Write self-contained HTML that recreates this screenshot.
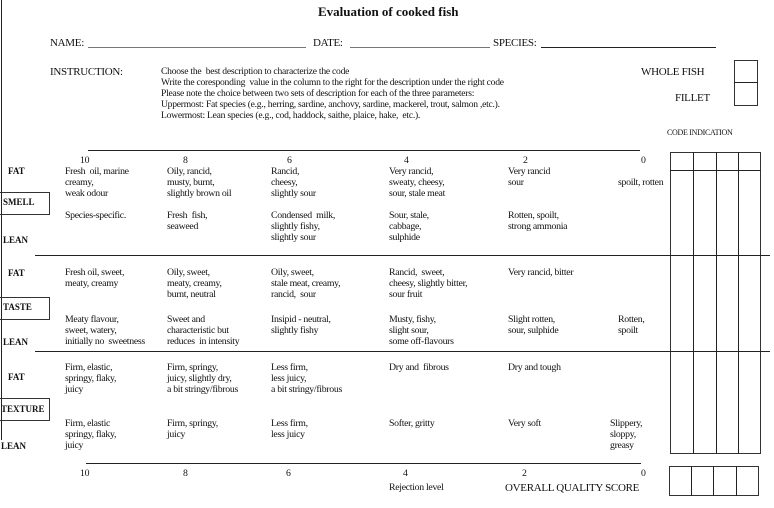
<!DOCTYPE html>
<html><head><meta charset="utf-8"><style>
body{margin:0;width:774px;height:508px;background:#fff;position:relative;overflow:hidden;font-family:"Liberation Serif",serif;color:#111}
.t{position:absolute;font-size:9.8px;line-height:11px;white-space:nowrap;letter-spacing:-0.3px}
.b{position:absolute;font-size:9px;font-weight:bold;white-space:nowrap}
.h{position:absolute;background:#222;height:1px}
.v{position:absolute;background:#222;width:1px}
.box{position:absolute;border:1px solid #333;box-sizing:border-box}
.l{position:absolute;font-size:11px;white-space:nowrap;letter-spacing:-0.3px}
</style></head><body>
<div class="v" style="left:1px;top:0;height:440px"></div>
<div class="b" style="left:318px;top:4px;font-size:13px">Evaluation of cooked fish</div>
<div class="l" style="left:50px;top:37px">NAME:</div><div class="h" style="left:88px;top:47px;width:218px;background:#777"></div>
<div class="l" style="left:313px;top:37px">DATE:</div><div class="h" style="left:350px;top:47px;width:140px;background:#777"></div>
<div class="l" style="left:493px;top:37px">SPECIES:</div><div class="h" style="left:541px;top:47px;width:175px"></div>
<div class="l" style="left:50px;top:66px">INSTRUCTION:</div>
<div class="t" style="left:161px;top:66px;font-size:9.6px;line-height:11px;letter-spacing:-0.25px">Choose the &nbsp;best description to characterize the code<br>Write the coresponding &nbsp;value in the column to the right for the description under the right code<br>Please note the choice between two sets of description for each of the three parameters:<br>Uppermost: Fat species (e.g., herring, sardine, anchovy, sardine, mackerel, trout, salmon ,etc.).<br>Lowermost: Lean species (e.g., cod, haddock, saithe, plaice, hake, &nbsp;etc.).</div>
<div class="l" style="left:641px;top:66px">WHOLE FISH</div>
<div class="l" style="left:675px;top:92px">FILLET</div>
<div class="box" style="left:734px;top:60px;width:24px;height:46px"></div><div class="h" style="left:734px;top:82px;width:24px"></div>
<div class="t" style="left:667px;top:127px;font-size:8px">CODE INDICATION</div>
<div class="box" style="left:670px;top:152px;width:91px;height:302px"></div>
<div class="v" style="left:693px;top:152px;height:302px"></div><div class="v" style="left:716px;top:152px;height:302px"></div><div class="v" style="left:738px;top:152px;height:302px"></div>
<div class="h" style="left:670px;top:170px;width:91px"></div>
<div class="box" style="left:669px;top:466px;width:90px;height:30px"></div>
<div class="v" style="left:691px;top:466px;height:30px"></div><div class="v" style="left:713px;top:466px;height:30px"></div><div class="v" style="left:736px;top:466px;height:30px"></div>
<div class="h" style="left:88px;top:150px;width:552px"></div>
<div class="h" style="left:35px;top:255px;width:735px"></div>
<div class="h" style="left:35px;top:351px;width:735px"></div>
<div class="h" style="left:86px;top:463px;width:555px"></div>
<div class="t" style="left:80px;top:155px">10</div><div class="t" style="left:183px;top:155px">8</div><div class="t" style="left:287px;top:155px">6</div><div class="t" style="left:404px;top:155px">4</div><div class="t" style="left:523px;top:155px">2</div><div class="t" style="left:641px;top:155px">0</div>
<div class="t" style="left:80px;top:468px">10</div><div class="t" style="left:183px;top:468px">8</div><div class="t" style="left:286px;top:468px">6</div><div class="t" style="left:403px;top:468px">4</div><div class="t" style="left:522px;top:468px">2</div><div class="t" style="left:641px;top:468px">0</div>
<div class="t" style="left:389px;top:482px">Rejection level</div>
<div class="l" style="left:505px;top:482px">OVERALL QUALITY SCORE</div>
<div class="b" style="left:8px;top:166px">FAT</div>
<div class="box" style="left:-1px;top:192px;width:51px;height:23px"></div><div class="b" style="left:3px;top:197px">SMELL</div>
<div class="b" style="left:3px;top:235px">LEAN</div>
<div class="b" style="left:8px;top:268px">FAT</div>
<div class="box" style="left:-1px;top:297px;width:51px;height:23px"></div><div class="b" style="left:3px;top:302px">TASTE</div>
<div class="b" style="left:3px;top:337px">LEAN</div>
<div class="b" style="left:8px;top:372px">FAT</div>
<div class="box" style="left:-1px;top:398px;width:51px;height:23px"></div><div class="b" style="left:1px;top:404px">TEXTURE</div>
<div class="b" style="left:1px;top:441px">LEAN</div>
<div class="t" style="left:65px;top:166px">Fresh &nbsp;oil, marine<br>creamy,<br>weak odour</div>
<div class="t" style="left:167px;top:166px">Oily, rancid,<br>musty, burnt,<br>slightly brown oil</div>
<div class="t" style="left:271px;top:166px">Rancid,<br>cheesy,<br>slightly sour</div>
<div class="t" style="left:389px;top:166px">Very rancid,<br>sweaty, cheesy,<br>sour, stale meat</div>
<div class="t" style="left:508px;top:166px">Very rancid<br>sour</div>
<div class="t" style="left:618px;top:177px">spoilt, rotten</div>
<div class="t" style="left:65px;top:210px">Species-specific.</div>
<div class="t" style="left:167px;top:210px">Fresh &nbsp;fish,<br>seaweed</div>
<div class="t" style="left:271px;top:210px">Condensed &nbsp;milk,<br>slightly fishy,<br>slightly sour</div>
<div class="t" style="left:389px;top:210px">Sour, stale,<br>cabbage,<br>sulphide</div>
<div class="t" style="left:508px;top:210px">Rotten, spoilt,<br>strong ammonia</div>
<div class="t" style="left:65px;top:267px">Fresh oil, sweet,<br>meaty, creamy</div>
<div class="t" style="left:167px;top:267px">Oily, sweet,<br>meaty, creamy,<br>burnt, neutral</div>
<div class="t" style="left:271px;top:267px">Oily, sweet,<br>stale meat, creamy,<br>rancid, &nbsp;sour</div>
<div class="t" style="left:389px;top:267px">Rancid, &nbsp;sweet,<br>cheesy, slightly bitter,<br>sour fruit</div>
<div class="t" style="left:508px;top:267px">Very rancid, bitter</div>
<div class="t" style="left:65px;top:314px">Meaty flavour,<br>sweet, watery,<br>initially no &nbsp;sweetness</div>
<div class="t" style="left:167px;top:314px">Sweet and<br>characteristic but<br>reduces &nbsp;in intensity</div>
<div class="t" style="left:271px;top:314px">Insipid - neutral,<br>slightly fishy</div>
<div class="t" style="left:389px;top:314px">Musty, fishy,<br>slight sour,<br>some off-flavours</div>
<div class="t" style="left:508px;top:314px">Slight rotten,<br>sour, sulphide</div>
<div class="t" style="left:618px;top:314px">Rotten,<br>spoilt</div>
<div class="t" style="left:65px;top:362px">Firm, elastic,<br>springy, flaky,<br>juicy</div>
<div class="t" style="left:167px;top:362px">Firm, springy,<br>juicy, slightly dry,<br>a bit stringy/fibrous</div>
<div class="t" style="left:271px;top:362px">Less firm,<br>less juicy,<br>a bit stringy/fibrous</div>
<div class="t" style="left:389px;top:362px">Dry and &nbsp;fibrous</div>
<div class="t" style="left:508px;top:362px">Dry and tough</div>
<div class="t" style="left:65px;top:418px">Firm, elastic<br>springy, flaky,<br>juicy</div>
<div class="t" style="left:167px;top:418px">Firm, springy,<br>juicy</div>
<div class="t" style="left:271px;top:418px">Less firm,<br>less juicy</div>
<div class="t" style="left:389px;top:418px">Softer, gritty</div>
<div class="t" style="left:508px;top:418px">Very soft</div>
<div class="t" style="left:610px;top:418px">Slippery,<br>sloppy,<br>greasy</div>
</body></html>
